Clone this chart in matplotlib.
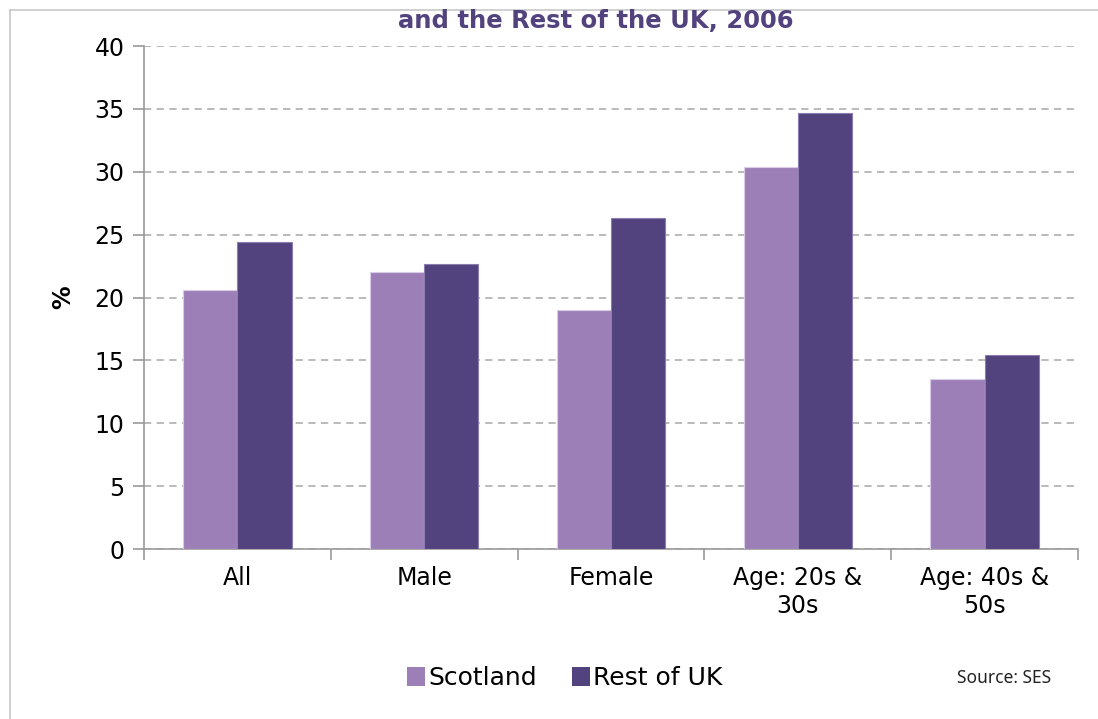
import numpy as np
import matplotlib
matplotlib.use('Agg')
import matplotlib.pyplot as plt
from matplotlib.lines import Line2D
from matplotlib.patches import Patch

# Data
categories = ['All', 'Male', 'Female', 'Age: 20s &\n30s', 'Age: 40s &\n50s']
scotland = [20.6, 22.0, 19.0, 30.4, 13.5]
rest_of_uk = [24.4, 22.7, 26.3, 34.7, 15.4]
yticks = [0, 5, 10, 15, 20, 25, 30, 35, 40]

light = '#9d7fb8'
dark = '#52437e'
font = 'DejaVu Sans'

fig = plt.figure(figsize=(10.98, 7.19), dpi=100)
ax = fig.add_axes([0.1311, 0.2364, 0.8507, 0.6996])

x = np.arange(len(categories))
w = 0.29
ax.bar(x - w / 2, scotland, w, color=light, edgecolor='#d9cce6', linewidth=0.8, zorder=3)
ax.bar(x + w / 2, rest_of_uk, w, color=dark, edgecolor='#8a7bb0', linewidth=0.8, zorder=3)

ax.set_xlim(-0.5, len(categories) - 0.5)
ax.set_ylim(0, 40)
ax.set_yticks(yticks)
ax.set_yticklabels([str(v) for v in yticks], fontfamily=font, fontsize=17)
ax.yaxis.grid(True, linestyle=(0, (4, 3)), color='#b4b4b4', linewidth=1.3, zorder=0)

# category labels at centres, tick marks at the boundaries
ax.set_xticks(np.arange(-0.5, len(categories), 1.0))
ax.set_xticklabels([])
ax.set_xticks(x, minor=True)
ax.set_xticklabels(categories, minor=True, fontfamily=font, fontsize=17, linespacing=1.25)
ax.tick_params(axis='x', which='minor', length=0, pad=12)
ax.tick_params(axis='x', which='major', length=8, color='#999999', width=1.2)
ax.tick_params(axis='y', length=8, color='#999999', width=1.2, pad=6)

for side in ['top', 'right']:
    ax.spines[side].set_visible(False)
for side in ['left', 'bottom']:
    ax.spines[side].set_color('#999999')
    ax.spines[side].set_linewidth(1.2)

ax.set_ylabel('%', fontsize=17, fontweight='bold', labelpad=14)

# title (partly cut off in the original)
fig.text(0.543, 1 - 21 / 719, 'and the Rest of the UK, 2006', ha='center', va='center',
         fontsize=17.5, fontweight='bold', color=dark, family='DejaVu Sans')

handles = [Patch(facecolor=light, edgecolor='none'), Patch(facecolor=dark, edgecolor='none')]
fig.legend(handles, ['Scotland', 'Rest of UK'], loc='center', bbox_to_anchor=(565 / 1098, 1 - 678 / 719),
           ncol=2, frameon=False, handlelength=0.7, handleheight=0.8, handletextpad=0.15,
           columnspacing=1.4, prop={'family': font, 'size': 18})

fig.text(1004 / 1098, 1 - 678 / 719, 'Source: SES', ha='center', va='center',
         fontsize=12.5, color='#222222', family='Noto Sans')

# outer frame lines
fig.add_artist(Line2D([10 / 1098, 10 / 1098], [0, 1 - 10 / 719], transform=fig.transFigure,
                      color='#c8c8c8', linewidth=1.2))
fig.add_artist(Line2D([10 / 1098, 1], [1 - 10 / 719, 1 - 10 / 719], transform=fig.transFigure,
                      color='#c8c8c8', linewidth=1.2, zorder=0))

fig.savefig('out.png', dpi=100)
